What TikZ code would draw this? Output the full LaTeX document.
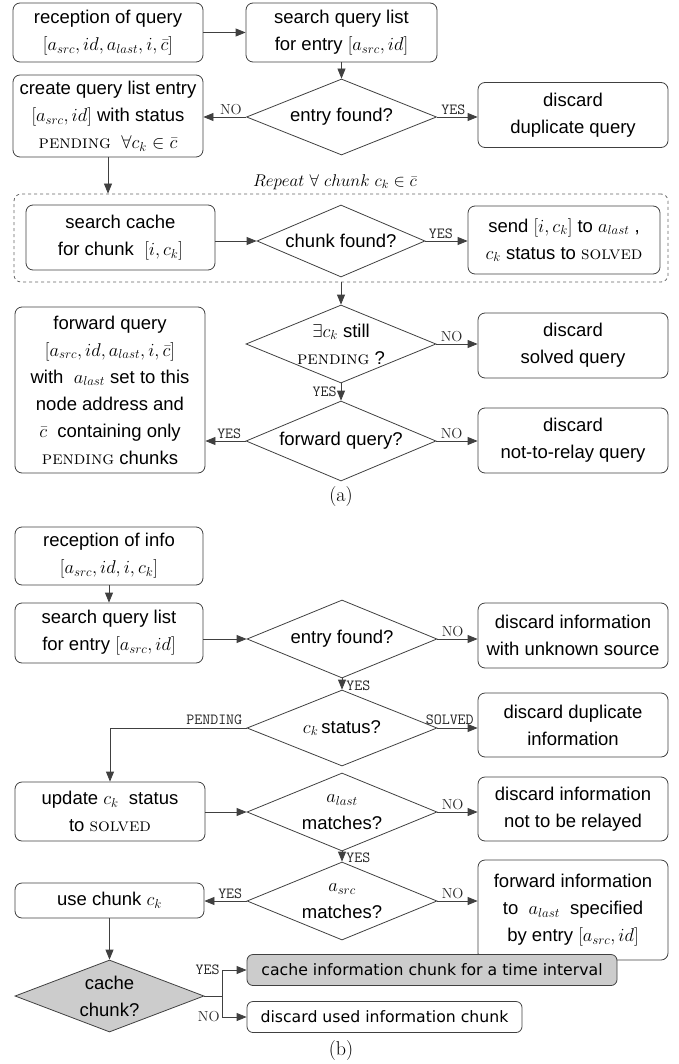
\RequirePackage{fix-cm}
\documentclass[tikz,border=0pt]{standalone}
\usepackage{fontspec}
\setsansfont{Liberation Sans}
\newfontfamily\djv{DejaVu Sans}
\usetikzlibrary{shapes.geometric,arrows.meta,calc}
\newcommand\pendsc{{\rmfamily\textsc{pending}}}
\newcommand\solvsc{{\rmfamily\textsc{solved}}}
\begin{document}
\begin{tikzpicture}[x=1pt,y=-1pt,
  every node/.style={font=\sffamily\fontsize{18.5}{27}\selectfont, inner sep=0pt},
  box/.style={draw=black!75, line width=0.8pt, rounded corners=7pt, align=center, minimum width=190pt},
  dmnd/.style={draw=black!75, line width=0.8pt, diamond, inner sep=0pt, minimum width=190pt},
  arr/.style={draw=black!75, line width=0.8pt, -{Triangle[length=10pt,width=8pt]}},
  ln/.style={draw=black!75, line width=0.8pt},
  yes/.style={font=\ttfamily\fontsize{15.5}{15.5}\selectfont, text=black!85},
  no/.style={font=\rmfamily\fontsize{14.5}{14.5}\selectfont, text=black!85},
  grey/.style={fill=black!20},
]
\useasboundingbox (0,0) rectangle (678,1064);

% ---------------- (a) ----------------
\node[box, minimum height=59pt] (q1) at (108,32.5) {reception of query\\$[a_{src},id,a_{last},i,\bar{c}]$};
\node[box, minimum width=191pt, minimum height=59pt] (q2) at (341.5,32.5) {search query list\\for entry $[a_{src},id]$};
\node[dmnd, minimum height=76pt, label={center:entry found?}] (d1) at (341.5,117) {};
\node[box, minimum height=82pt] (q3) at (108,116) {create query list entry\\$[a_{src},id]$ with status\\\pendsc\ \ $\forall c_k\in\bar{c}$};
\node[box, minimum height=65pt] (q4) at (573,115) {discard\\duplicate query};

\node[font=\fontsize{17}{17}\selectfont] (replbl) at (335,182) {$Repeat\ \forall\ chunk\ c_k\in\bar{c}$};
\node[draw=black!60, line width=0.8pt, dashed, rounded corners=7pt, minimum width=654pt, minimum height=88pt] (rep) at (341,238) {};
\node[box, minimum width=189pt, minimum height=65pt] (q5) at (120.5,237.5) {search cache\\for chunk \ $[i,c_k]$};
\node[dmnd, minimum width=168pt, minimum height=72pt, label={center:chunk found?}] (d2) at (341,241) {};
\node[box, minimum width=192pt, minimum height=68pt] (q6) at (564,240) {send $[i,c_k]$ to $a_{last}$ ,\\$c_k$ status to \solvsc};

\node[dmnd, minimum height=78pt, label={[align=center]center:$\exists c_k$ still\\\pendsc\ ?}] (d3) at (341,344) {};
\node[box, minimum height=65pt] (q7) at (573,345.5) {discard\\solved query};
\node[dmnd, minimum height=80pt, label={center:forward query?}] (d4) at (341,441) {};
\node[box, minimum height=166pt] (q8) at (110,390) {forward query\\$[a_{src},id,a_{last},i,\bar{c}]$\\with \ $a_{last}$ set to this\\node address and\\$\bar{c}$ \ containing only\\\pendsc\ chunks};
\node[box, minimum height=65pt] (q9) at (573,440.5) {discard\\not-to-relay query};
\node[font=\rmfamily\fontsize{20}{20}\selectfont] (capa) at (341,497) {(a)};

\draw[arr] (q1) -- (q2);
\draw[arr] (q2) -- (d1);
\draw[arr] (d1.west) -- node[no, at start, anchor=south east, xshift=-4pt, yshift=2pt]{NO} (d1.west -| q3.east);
\draw[arr] (d1.east) -- node[yes, at start, anchor=south west, xshift=4pt, yshift=2pt]{YES} (d1.east -| q4.west);
\draw[arr] (q3.south) -- (q3.south |- rep.north);
\draw[arr] (d2.west -| q5.east) -- (d2.west);
\draw[arr] (d2.east) -- node[yes, at start, anchor=south west, xshift=3pt, yshift=2pt]{YES} (d2.east -| q6.west);
\draw[arr] (rep.south -| d3.north) -- (d3.north);
\draw[arr] (d3.east) -- node[no, at start, anchor=south west, xshift=4pt, yshift=2pt]{NO} (d3.east -| q7.west);
\draw[arr] (d3.south) -- node[yes, anchor=east, xshift=-4pt]{YES} (d4.north);
\draw[arr] (d4.west) -- node[yes, at start, anchor=south east, xshift=-4pt, yshift=2pt]{YES} (d4.west -| q8.east);
\draw[arr] (d4.east) -- node[no, at start, anchor=south west, xshift=4pt, yshift=2pt]{NO} (d4.east -| q9.west);

% ---------------- (b) ----------------
\node[box, minimum width=188pt, minimum height=58pt] (r1) at (109,556) {reception of info\\$[a_{src},id,i,c_k]$};
\node[box, minimum width=188pt, minimum height=60pt] (r2) at (109,633) {search query list\\for entry $[a_{src},id]$};
\node[dmnd, minimum height=78pt, label={center:entry found?}] (d5) at (342,639) {};
\node[box, minimum height=65pt] (r3) at (573,635.5) {discard information\\with unknown source};
\node[dmnd, minimum height=76pt, label={center:$c_k$\,status?}] (d6) at (342,728) {};
\node[box, minimum height=64pt] (r4) at (573,725) {discard duplicate\\information};
\node[box, minimum height=59pt] (r5) at (110,811.5) {update $c_k$ \ status\\to \solvsc};
\node[dmnd, minimum height=78pt, label={[align=center]center:$a_{last}$\\matches?}] (d7) at (342,812) {};
\node[box, minimum height=64pt] (r6) at (573,809) {discard information\\not to be relayed};
\node[dmnd, minimum height=78pt, label={[align=center]center:$a_{src}$\\matches?}] (d8) at (342,901) {};
\node[box, minimum height=100pt] (r7) at (573,910) {forward information\\to \ $a_{last}$ \ specified\\by entry $[a_{src},id]$};
\node[box, minimum width=189pt, minimum height=35pt] (r8) at (109.5,900.5) {use chunk $c_k$};
\node[dmnd, grey, minimum width=189pt, minimum height=72pt, label={[align=center]center:cache\\chunk?}] (d9) at (109.5,996) {};
\node[box, grey, minimum width=370pt, minimum height=31pt, rounded corners=6pt, font=\djv\fontsize{15.7}{18}\selectfont] (r9) at (432,970) {cache information chunk for a time interval};
\node[box, minimum width=275pt, minimum height=31pt, rounded corners=6pt, font=\djv\fontsize{15.7}{18}\selectfont] (r10) at (384.5,1017) {discard used information chunk};
\node[font=\rmfamily\fontsize{20}{20}\selectfont] (capb) at (341,1050) {(b)};
\coordinate (br) at (222,996);

\draw[arr] (r1) -- (r2);
\draw[arr] (d5.west -| r2.east) -- (d5.west);
\draw[arr] (d5.east) -- node[no, at start, anchor=south west, xshift=4pt, yshift=2pt]{NO} (d5.east -| r3.west);
\draw[arr] (d5.south) -- node[yes, anchor=west, xshift=4pt, yshift=-2pt]{YES} (d6.north);
\draw[arr] (d6.east) -- node[yes, at start, anchor=south west, xshift=-12pt, yshift=3pt]{SOLVED} (d6.east -| r4.west);
\draw[arr] (d6.west) -- node[yes, at start, anchor=south east, xshift=-4pt, yshift=3pt]{PENDING} (d6.west -| r5.north) -- (r5.north);
\draw[arr] (d7.west -| r5.east) -- (d7.west);
\draw[arr] (d7.east) -- node[no, at start, anchor=south west, xshift=4pt, yshift=2pt]{NO} (d7.east -| r6.west);
\draw[arr] (d7.south) -- node[yes, anchor=west, xshift=4pt, yshift=-1pt]{YES} (d8.north);
\draw[arr] (d8.west) -- node[yes, at start, anchor=south east, xshift=-4pt, yshift=2pt]{YES} (d8.west -| r8.east);
\draw[arr] (d8.east) -- node[no, at start, anchor=south west, xshift=4pt, yshift=2pt]{NO} (d8.east -| r7.west);
\draw[arr] (r8) -- (d9);
\draw[ln] (d9.east) -- (br);
\draw[arr] (br) |- node[yes, pos=0.5, anchor=east, xshift=-2pt]{YES} (r9.west);
\draw[arr] (br) |- node[no, pos=0.5, anchor=east, xshift=-2pt]{NO} (r10.west);
\end{tikzpicture}
\end{document}
